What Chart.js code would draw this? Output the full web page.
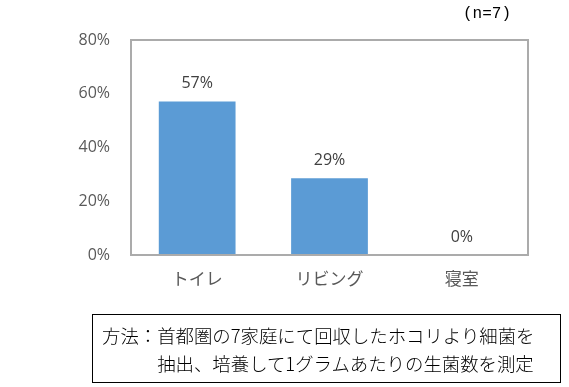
<!DOCTYPE html>
<html>
<head>
<meta charset="utf-8">
<script src="https://cdn.jsdelivr.net/npm/chart.js@4/dist/chart.umd.min.js"></script>
<style>
  body { margin: 0; background: #fff; }
  #wrap { position: relative; width: 569px; height: 387px; }
  #n-label {
    position: absolute; left: 463px; top: 5px;
    font: 16px "Liberation Mono", "DejaVu Sans Mono", monospace; color: #000;
  }
  #note {
    position: absolute; left: 92px; top: 314px; width: 469px; height: 69px;
    border: 1px solid #000; box-sizing: border-box;
    font: 300 18.4px/28px "Noto Sans CJK JP", sans-serif; color: #000;
    padding: 6px 0 0 9px;
  }
  #note .indent { padding-left: 3em; }
</style>
</head>
<body>
<div id="wrap">
  <canvas id="chart" width="569" height="387"></canvas>
  <div id="n-label">(n=7)</div>
  <div id="note">
    <div>方法：首都圏の7家庭にて回収したホコリより細菌を</div>
    <div class="indent">抽出、培養して1グラムあたりの生菌数を測定</div>
  </div>
</div>
<script>
// data
const categories = ['トイレ', 'リビング', '寝室'];
const values = [57.1, 28.6, 0];
const valueLabels = ['57%', '29%', '0%'];
const yTicks = [0, 20, 40, 60, 80];

const fontFamily = "'Open Sans', 'Noto Sans CJK JP', sans-serif";

// frame around plot area + value labels
const framePlugin = {
    id: 'frame',
    afterDatasetsDraw(chart) {
        const { ctx, chartArea } = chart;
        ctx.save();
        ctx.strokeStyle = '#ABABAB';
        ctx.lineWidth = 2;
        ctx.strokeRect(chartArea.left, chartArea.top, chartArea.right - chartArea.left, chartArea.bottom - chartArea.top);

        const meta = chart.getDatasetMeta(0);
        ctx.fillStyle = '#404040';
        ctx.font = '16px ' + fontFamily;
        ctx.textAlign = 'center';
        ctx.textBaseline = 'middle';
        meta.data.forEach((bar, i) => {
            ctx.fillText(valueLabels[i], bar.x, bar.y - 18);
        });
        ctx.restore();
    }
};

new Chart(document.getElementById('chart'), {
    type: 'bar',
    data: {
        labels: categories,
        datasets: [{
            data: values,
            backgroundColor: '#5B9BD5',
            categoryPercentage: 0.58,
            barPercentage: 1.0
        }]
    },
    options: {
        responsive: false,
        animation: false,
        layout: { padding: { top: 40, right: 41, left: 0, bottom: 0 } },
        plugins: {
            legend: { display: false },
            tooltip: { enabled: false }
        },
        scales: {
            x: {
                grid: { display: false, drawTicks: false },
                border: { display: false },
                ticks: { color: '#595959', font: { family: fontFamily, size: 17 }, padding: 15 },
                afterFit: (scale) => { scale.height = 132; }
            },
            y: {
                min: 0,
                max: 80,
                grid: { display: false, drawTicks: false },
                border: { display: false },
                afterBuildTicks: (scale) => { scale.ticks = yTicks.map(v => ({ value: v })); },
                ticks: {
                    color: '#595959',
                    font: { family: fontFamily, size: 16 },
                    padding: 21,
                    callback: (v) => v + '%'
                },
                afterFit: (scale) => { scale.width = 131; }
            }
        }
    },
    plugins: [framePlugin]
});
</script>
</body>
</html>
